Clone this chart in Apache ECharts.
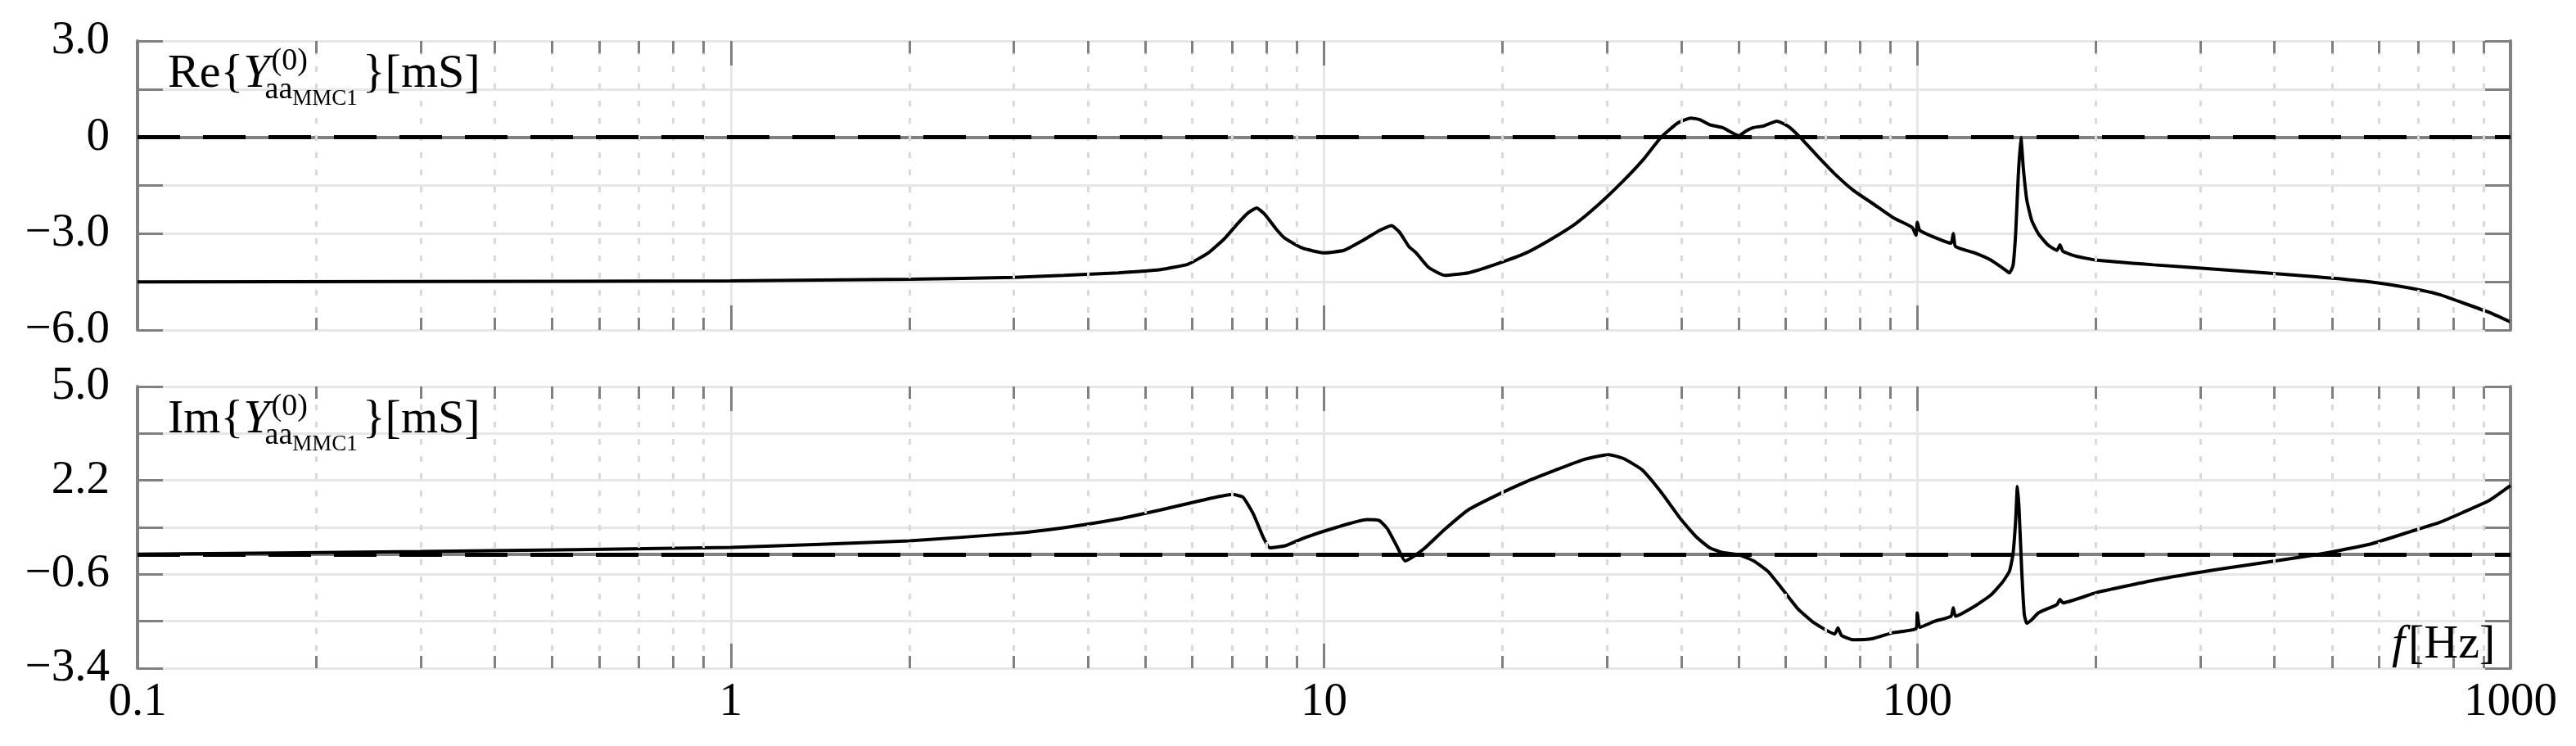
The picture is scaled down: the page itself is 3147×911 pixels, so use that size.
<!DOCTYPE html>
<html>
<head>
<meta charset="utf-8">
<script src="https://cdn.jsdelivr.net/npm/echarts@6/dist/echarts.min.js"></script>
<style>html,body{margin:0;padding:0;background:#fff}#chart{width:3147px;height:911px}</style>
</head>
<body>
<div id="chart"></div>
<script>
// frequency [Hz] and admittance values [mS]
var reFreq = [0.1, 0.3, 1, 2, 3, 3.64, 4.5, 5.3, 5.9, 6.38, 6.8, 7.14, 7.45, 7.7, 7.95, 8.3, 8.6, 9.2, 10, 10.8, 11.6, 12.4, 13.0, 13.4, 13.9, 14.3, 15.0, 16.0, 17.5, 19.5, 21.9, 24, 26.5, 29, 31.9, 34.5, 37, 39.5, 41.5, 43, 44.7, 47, 50, 51.5, 52.9, 55, 58, 60.5, 63.7, 68, 72.6, 78, 84.4, 91, 98, 99.5, 100, 101, 108, 114, 115, 116, 125, 133, 140, 143, 145, 146.5, 148, 149.5, 151, 153, 156, 160, 166, 172, 174, 176, 185, 200, 250, 325, 470, 580, 680, 760, 830, 920, 1000];
var reVal  = [-4.5, -4.49, -4.47, -4.42, -4.36, -4.3, -4.22, -4.12, -3.95, -3.6, -3.15, -2.7, -2.35, -2.2, -2.4, -2.85, -3.15, -3.45, -3.6, -3.52, -3.22, -2.9, -2.75, -2.95, -3.4, -3.6, -4.05, -4.3, -4.22, -3.95, -3.6, -3.2, -2.7, -2.1, -1.37, -0.7, 0, 0.45, 0.6, 0.55, 0.39, 0.3, 0.05, 0.2, 0.3, 0.35, 0.5, 0.35, -0.03, -0.6, -1.14, -1.65, -2.08, -2.5, -2.8, -3.05, -2.65, -2.9, -3.15, -3.3, -3.0, -3.4, -3.6, -3.82, -4.1, -4.22, -4.0, -3.0, -1.2, 0, -1.0, -1.96, -2.6, -3.0, -3.35, -3.52, -3.35, -3.55, -3.7, -3.82, -3.97, -4.12, -4.34, -4.5, -4.7, -4.9, -5.15, -5.45, -5.75];
var imFreq = [0.1, 0.3, 1, 2, 3, 3.64, 4.5, 5.3, 6.2, 7.0, 7.3, 7.6, 7.9, 8.1, 8.6, 9.3, 10.5, 11.8, 12.4, 12.8, 13.3, 13.7, 14.2, 14.8, 16, 17.5, 19.5, 21.9, 24.5, 27.5, 30.2, 32, 34.4, 37, 40, 42.5, 44.7, 47, 50, 53, 56, 59, 63, 67, 72.6, 73.5, 74.5, 78, 84, 91, 99.5, 100, 101, 107, 114, 115, 116, 125, 133, 139, 143, 145, 146.5, 147.5, 148.5, 150, 151.5, 153, 156, 160, 172, 174, 176, 200, 250, 325, 470, 580, 680, 760, 830, 920, 1000];
var imVal  = [0.0, 0.08, 0.2, 0.4, 0.62, 0.79, 1.05, 1.32, 1.6, 1.78, 1.7, 1.2, 0.5, 0.19, 0.25, 0.5, 0.8, 1.03, 1.0, 0.75, 0.2, -0.2, -0.05, 0.19, 0.75, 1.32, 1.75, 2.16, 2.5, 2.83, 2.97, 2.85, 2.51, 1.85, 1.03, 0.5, 0.19, 0.05, -0.02, -0.2, -0.51, -1.0, -1.64, -2.05, -2.38, -2.2, -2.42, -2.55, -2.52, -2.34, -2.22, -1.75, -2.18, -2.0, -1.85, -1.6, -1.85, -1.55, -1.22, -0.85, -0.51, 0.0, 1.0, 2.02, 1.3, -0.5, -1.8, -2.06, -1.95, -1.75, -1.5, -1.35, -1.45, -1.15, -0.78, -0.44, -0.02, 0.3, 0.68, 0.95, 1.24, 1.6, 2.05];
var xTickLabels = ['0.1', '1', '10', '100', '1000'];

var FONT = 'Liberation Serif';
var GRAY = '#808080';

function pairs(xs, ys) { return xs.map(function (x, i) { return [x, ys[i]]; }); }

var minorX = [], allX = [];
[0.1, 1, 10, 100].forEach(function (d) {
  for (var k = 1; k <= 9; k++) {
    var v = +(d * k).toPrecision(3);
    allX.push(v);
    if (k > 1) minorX.push(v);
  }
});

function xTickLines(ymin, ymax, perPx) {
  var out = [];
  allX.concat([1000]).forEach(function (v) {
    var len = (Math.abs(Math.log10(v) - Math.round(Math.log10(v))) < 1e-6 ? 30 : 15) * perPx;
    out.push([{ coord: [v, ymax] }, { coord: [v, ymax - len] }]);
    out.push([{ coord: [v, ymin] }, { coord: [v, ymin + len] }]);
  });
  return out;
}

var chart = echarts.init(document.getElementById('chart'));

var grids = [
  { left: 168, right: 80, top: 50, height: 353 },
  { left: 168, right: 80, top: 472, height: 344 }
];
function fmt(v) { return (v < 0 ? '\u2212' : '') + Math.abs(v).toFixed(1); }
var yCfg = [
  { min: -6, max: 3, interval: 1.5, lab: function (v) { return Math.abs(v % 3) < 1e-6 ? (v === 0 ? '0' : fmt(v)) : ''; } },
  { min: -3.4, max: 5, interval: 1.4, lab: function (v) { var r = (v + 3.4) / 2.8; return Math.abs(r - Math.round(r)) < 1e-6 ? fmt(v) : ''; } }
];

var xAxes = [], yAxes = [], series = [];
[0, 1].forEach(function (g) {
  xAxes.push({
    gridIndex: g, type: 'log', logBase: 10, min: 0.1, max: 1000, position: 'bottom',
    axisLine: { show: true, lineStyle: { color: GRAY, width: 4 } },
    axisTick: { show: false },
    axisLabel: { show: g === 1, fontFamily: FONT, fontSize: 57, color: '#000', margin: 14,
      formatter: function (v) { return xTickLabels[Math.round(Math.log10(v)) + 1]; } },
    splitLine: { show: true, lineStyle: { color: '#e6e6e6', width: 3 } }
  });
  xAxes.push({
    gridIndex: g, type: 'log', logBase: 10, min: 0.1, max: 1000, position: 'top',
    axisLine: { show: true, lineStyle: { color: GRAY, width: 4 } },
    axisTick: { show: false }, axisLabel: { show: false }, splitLine: { show: false }
  });
  var c = yCfg[g];
  yAxes.push({
    gridIndex: g, type: 'value', min: c.min, max: c.max, interval: c.interval, position: 'left',
    axisLine: { show: true, lineStyle: { color: GRAY, width: 4 } },
    axisTick: { show: true, inside: true, length: 31, lineStyle: { color: GRAY, width: 3 } },
    axisLabel: { fontFamily: FONT, fontSize: 57, color: '#000', margin: 34, formatter: c.lab },
    splitLine: { show: true, lineStyle: { color: '#e6e6e6', width: 3 } }
  });
  yAxes.push({
    gridIndex: g, type: 'value', min: c.min, max: c.max, interval: c.interval, position: 'right',
    axisLine: { show: true, lineStyle: { color: GRAY, width: 4 } },
    axisTick: { show: true, inside: true, length: 31, lineStyle: { color: GRAY, width: 3 } },
    axisLabel: { show: false }, splitLine: { show: false }
  });
  var perPx = (c.max - c.min) / grids[g].height;
  // minor dotted grid
  series.push({
    type: 'line', xAxisIndex: g * 2, yAxisIndex: g * 2, data: [], silent: true,
    markLine: { silent: true, symbol: 'none', label: { show: false }, animation: false,
      lineStyle: { color: '#d9d9d9', width: 3, type: [7, 14] },
      data: minorX.map(function (v) { return { xAxis: v }; }) }
  });
  // x ticks on top and bottom borders
  series.push({
    type: 'line', xAxisIndex: g * 2, yAxisIndex: g * 2, data: [], silent: true,
    markLine: { silent: true, symbol: 'none', label: { show: false }, animation: false,
      lineStyle: { color: GRAY, width: 3, type: 'solid' },
      data: xTickLines(c.min, c.max, perPx) }
  });
  // dashed zero line
  series.push({
    type: 'line', xAxisIndex: g * 2, yAxisIndex: g * 2, data: [], silent: true,
    markLine: { silent: true, symbol: 'none', label: { show: false }, animation: false,
      lineStyle: { color: '#000', width: 5, type: [52, 28] },
      data: [{ yAxis: 0 }] }
  });
});

series.push({ type: 'line', xAxisIndex: 0, yAxisIndex: 0, data: pairs(reFreq, reVal), showSymbol: false,
  smooth: 0.15, lineStyle: { color: '#000', width: 4 }, animation: false });
series.push({ type: 'line', xAxisIndex: 2, yAxisIndex: 2, data: pairs(imFreq, imVal), showSymbol: false,
  smooth: 0.15, lineStyle: { color: '#000', width: 4 }, animation: false });

// label with sub/superscripts, positioned by baseline
var ctx = document.createElement('canvas').getContext('2d');
function w(txt, size, italic) { ctx.font = (italic ? 'italic ' : '') + size + 'px "' + FONT + '"'; return ctx.measureText(txt).width; }
function tx(x, base, txt, size, italic) {
  return { type: 'text', x: x, y: base + size * 0.22, z: 100, style: { text: txt, font: (italic ? 'italic ' : '') + size + 'px "' + FONT + '"', fill: '#000', verticalAlign: 'bottom' } };
}
function label(prefix, x, base) {
  var els = [], big = 58, s1 = 38, s2 = 27;
  var a = prefix + '{';
  els.push(tx(x, base, a, big)); x += w(a, big);
  els.push(tx(x, base, 'Y', big, true)); x += w('Y', big, true);
  els.push(tx(x + 2, base - 21, '(0)', s1));
  var xs = x - 6;
  els.push(tx(xs, base + 14, 'aa', s1)); xs += w('aa', s1);
  els.push(tx(xs, base + 21, 'MMC1', s2)); xs += w('MMC1', s2);
  x = Math.max(xs, x + 2 + w('(0)', s1)) + 6;
  els.push(tx(x, base, '}[mS]', big));
  return els;
}
var graphics = label('Re', 205, 107).concat(label('Im', 205, 529));
graphics.push(tx(2922, 804, 'f', 58, true));
graphics.push(tx(2942, 804, '[Hz]', 58));

chart.setOption({
  animation: false,
  grid: grids,
  xAxis: xAxes,
  yAxis: yAxes,
  series: series,
  graphic: graphics
});
</script>
</body>
</html>
